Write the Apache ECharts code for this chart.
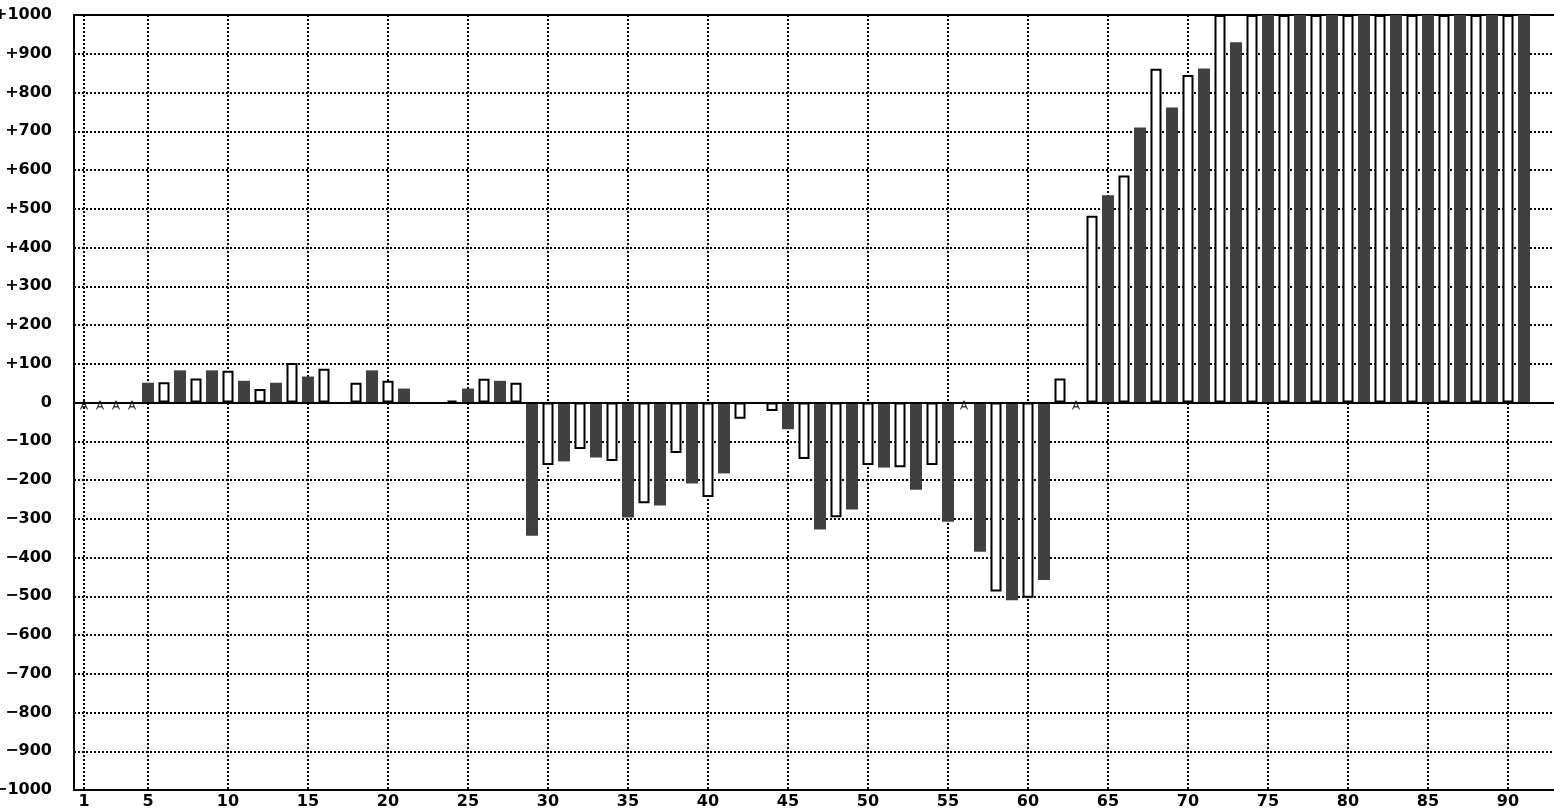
<!DOCTYPE html>
<html>
<head>
<meta charset="utf-8">
<script src="https://cdn.jsdelivr.net/npm/echarts@6/dist/echarts.min.js"></script>
<style>
html,body{margin:0;padding:0;background:#ffffff;}
#chart{width:1554px;height:810px;}
</style>
</head>
<body>
<div id="chart"></div>
<script>
// ---- data ----
// x tick labels
const xTickLabels = [1, 5, 10, 15, 20, 25, 30, 35, 40, 45, 50, 55, 60, 65, 70, 75, 80, 85, 90];
// filled (dark) bars: [category, value]
const darkBars = [
  [5, 51], [7, 83], [9, 83], [11, 56], [13, 51], [15, 67], [19, 83], [21, 36],
  [25, 36], [27, 56], [29, -344], [31, -152], [33, -142], [35, -297], [37, -266],
  [39, -209], [41, -183], [45, -69], [47, -328], [49, -276], [51, -168], [53, -225],
  [55, -308], [57, -385], [59, -510], [61, -458], [65, 535], [67, 710], [69, 761],
  [71, 862], [73, 930], [75, 1000], [77, 1000], [79, 1000], [81, 1000], [83, 1000],
  [85, 1000], [87, 1000], [89, 1000], [91, 1000]
];
// hollow (white) bars: [category, value]
const hollowBars = [
  [6, 52], [8, 62], [10, 82], [12, 35], [14, 102], [16, 87], [18, 51], [20, 56],
  [24, 5], [26, 61], [28, 51], [30, -161], [32, -120], [34, -151], [36, -260],
  [38, -130], [40, -244], [42, -42], [44, -22], [46, -146], [48, -296], [50, -161],
  [52, -167], [54, -161], [58, -488], [60, -504], [62, 62], [64, 482], [66, 586],
  [68, 861], [70, 845], [72, 1000], [74, 1000], [76, 1000], [78, 1000], [80, 1000],
  [82, 1000], [84, 1000], [86, 1000], [88, 1000], [90, 1000]
];
// categories marked as not available
const naCategories = [1, 2, 3, 4, 56, 63];
const yMin = -1000, yMax = 1000, yStep = 100;

// ---- chart ----
const chart = echarts.init(document.getElementById('chart'), null, {renderer: 'canvas'});
const FONT = 'DejaVu Sans';
const xMin = 0.375, xMax = 92.875;
const dotted = {color: '#000', width: 2, type: [2, 2]};

const option = {
  animation: false,
  backgroundColor: '#ffffff',
  grid: {left: 74, right: 0, top: 15, bottom: 20, containLabel: false, outerBoundsMode: 'none'},
  xAxis: [
    {
      type: 'value', min: xMin, max: xMax, position: 'bottom',
      axisLine: {show: true, onZero: false, lineStyle: {color: '#000', width: 2}},
      axisTick: {show: false, customValues: xTickLabels},
      axisLabel: {show: true, customValues: xTickLabels, color: '#000', fontSize: 16, fontWeight: 'bold', fontFamily: FONT, margin: 4},
      splitLine: {show: true, lineStyle: dotted}
    },
    {
      type: 'value', min: xMin, max: xMax, position: 'top',
      axisLine: {show: true, onZero: false, lineStyle: {color: '#000', width: 2}},
      axisTick: {show: false},
      axisLabel: {show: false},
      splitLine: {show: false}
    }
  ],
  yAxis: {
    type: 'value', min: yMin, max: yMax, interval: yStep,
    axisLine: {show: true, onZero: false, lineStyle: {color: '#000', width: 2}},
    axisTick: {show: false},
    axisLabel: {
      color: '#000', fontSize: 16, fontWeight: 'bold', fontFamily: FONT, margin: 22,
      showMinLabel: true, showMaxLabel: true,
      formatter: v => v > 0 ? '+' + v : (v < 0 ? '\u2212' + (-v) : '0')
    },
    splitLine: {show: true, lineStyle: dotted}
  },
  series: [
    {
      type: 'bar', name: 'dark', xAxisIndex: 0, data: darkBars, barWidth: 12,
      itemStyle: {color: '#404040'},
      markLine: {
        silent: true, symbol: ['none', 'none'], label: {show: false},
        lineStyle: {color: '#000', width: 2, type: 'solid'},
        data: [{yAxis: 0}], z: 10
      }
    },
    {
      type: 'bar', name: 'hollow', xAxisIndex: 1, data: hollowBars, barWidth: 11,
      itemStyle: {color: '#ffffff', borderColor: '#000', borderWidth: 2}
    },
    {
      type: 'scatter', name: 'na', xAxisIndex: 0,
      data: naCategories.map(c => [c, 0]),
      symbol: 'path://M2,0L4,0M3,0L0,7M3,0L6,7M1.2,4.6L4.8,4.6',
      symbolSize: [7, 8], symbolOffset: [0, 3], z: 20,
      itemStyle: {color: 'rgba(0,0,0,0)', borderColor: '#000', borderWidth: 1.2}
    }
  ]
};
chart.setOption(option);
</script>
</body>
</html>
